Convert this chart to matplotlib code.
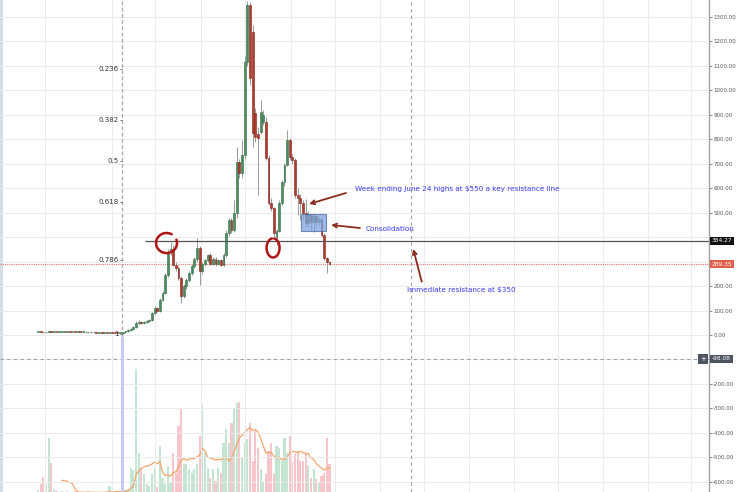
import numpy as np
import pandas as pd
import matplotlib
matplotlib.use("Agg")
import matplotlib.pyplot as plt
import matplotlib.transforms as mtransforms
from matplotlib.patches import Rectangle
from matplotlib.lines import Line2D

# daily candles (price in $)
opens = [12, 13, 12, 11, 13, 15, 13, 14, 13, 14, 14, 13, 14, 13, 13, 12, 13, 12, 12, 11,
         12, 11, 11, 10, 11, 10, 10, 9, 11, 10, 9, 8,
         8, 12, 16, 20, 26, 33, 49, 54, 48, 52,
         57, 61, 88, 110, 98, 143, 172, 245, 340, 352,
         286, 274, 233, 160, 200, 225, 253, 280, 310, 355,
         262, 290, 305, 325, 292, 312, 290, 305, 288, 327,
         417, 470, 430, 499, 707, 662, 736, 1116, 1349, 1240,
         908, 820, 830, 870, 871, 724, 540, 519, 400, 425,
         540, 625, 695, 797, 728, 715, 572, 560, 540, 499,
         458, 490, 462, 488, 462, 475, 409, 315, 298]
closes = [13, 12, 11, 13, 15, 13, 14, 13, 14, 14, 13, 14, 13, 13, 12, 13, 12, 12, 11, 12,
          11, 11, 10, 11, 10, 10, 9, 11, 10, 9, 8, 8,
          12, 16, 20, 26, 33, 49, 54, 48, 52, 57,
          61, 88, 110, 98, 143, 172, 245, 340, 352, 286,
          274, 233, 160, 200, 225, 253, 280, 310, 355, 262,
          290, 305, 325, 292, 312, 290, 305, 288, 327, 417,
          470, 430, 499, 707, 662, 736, 1116, 1349, 1051, 826,
          809, 805, 912, 900, 724, 540, 519, 417, 425, 540,
          625, 695, 797, 728, 715, 572, 560, 540, 499, 458,
          490, 462, 488, 462, 475, 409, 315, 298, 289.35]
highs = [14, 14, 13, 14, 16, 16, 15, 15, 15, 15, 15, 15, 15, 14, 14, 14, 14, 13, 13, 13,
         13, 12, 12, 12, 12, 11, 11, 12, 12, 11, 10, 9,
         14, 18, 23, 30, 38, 56, 60, 58, 56, 60,
         66, 95, 118, 114, 150, 180, 255, 352, 380, 368,
         300, 282, 240, 210, 232, 262, 290, 320, 397, 362,
         298, 312, 332, 335, 318, 320, 312, 312, 335, 428,
         480, 478, 552, 769, 720, 797, 1140, 1365, 1360, 1267,
         930, 850, 960, 920, 890, 735, 560, 525, 435, 550,
         635, 705, 838, 805, 740, 725, 600, 575, 550, 555,
         505, 495, 500, 492, 485, 480, 415, 320, 302]
lows = [11, 11, 10, 10, 12, 12, 12, 12, 12, 13, 12, 12, 12, 12, 11, 11, 11, 11, 10, 10,
        10, 10, 9, 9, 9, 9, 8, 8, 9, 8, 7, 7,
        6, 10, 14, 18, 24, 30, 45, 44, 45, 50,
        55, 58, 84, 92, 95, 138, 168, 238, 325, 280,
        262, 225, 131, 150, 190, 218, 245, 272, 300, 204,
        250, 282, 298, 285, 286, 284, 285, 280, 284, 320,
        405, 418, 420, 480, 640, 640, 720, 1100, 1022, 769,
        790, 572, 820, 860, 715, 530, 505, 400, 368, 420,
        530, 610, 690, 715, 700, 560, 490, 470, 470, 440,
        440, 430, 420, 440, 450, 400, 305, 253, 285]
volumes = [3, 9, 16, 9, 55, 30, 4, 2, 1, 2, 1, 2, 1, 1, 2, 1, 1, 1, 1, 2,
           1, 1, 1, 1, 1, 1, 2, 7, 1, 1, 2, 2,
           3, 3, 4, 25, 23, 124, 40, 24, 19, 9,
           7, 19, 25, 6, 47, 15, 9, 27, 10, 40,
           20, 67, 85, 29, 29, 24, 20, 24, 29, 57,
           88, 40, 25, 15, 24, 12, 25, 20, 50, 64,
           50, 70, 85, 90, 91, 35, 50, 54, 70, 32,
           62, 45, 24, 12, 19, 42, 50, 19, 47, 45,
           32, 55, 40, 57, 32, 39, 42, 32, 32, 40,
           27, 15, 24, 14, 10, 17, 20, 55, 29]

last_price = 289.35
resistance = 384.27
cursor_price = -98.08
fib_high = 1421
fib_low = 4
fib_levels = [0.236, 0.382, 0.5, 0.618, 0.786, 1]
fib_labels = ["0.236", "0.382", "0.5", "0.618", "0.786", "1"]
price_ticks = list(range(-600, 1301, 100))
month_lines = [2.6, 27.9, 44.2, 61.5, 78.1, 95.5, 112.1, 129, 145.7, 162.6,
               179.6, 196.2, 213.2, 230.2, 246.4]

x = np.arange(len(opens))
o = np.array(opens, float)
c = np.array(closes, float)
up = c >= o

fig = plt.figure(figsize=(7.4, 4.92), dpi=100)
rect = [0, 0, 709 / 740, 1]
vax = fig.add_axes(rect)
ax = fig.add_axes(rect)
vax.set_zorder(1)
ax.set_zorder(2)
ax.patch.set_visible(False)

xlim = (-14.34, 253.2)

# volume pane
vax.bar(x, volumes, width=0.8, color=np.where(up, "#c4e5d2", "#f8c6ca"), zorder=2)
ma = pd.Series(volumes).rolling(10).mean()
vax.plot(x, ma, color="#f5a56c", lw=0.9, zorder=3)
vax.set_xlim(*xlim)
vax.set_ylim(1.5, 492)
vax.axis("off")

# candles
ax.vlines(x, lows, highs, color="#9a9a9a", lw=0.7, zorder=3)
ax.bar(x, np.maximum(np.abs(c - o), 2.5), bottom=np.minimum(o, c), width=0.7,
       color=np.where(up, "#4b8d5f", "#b3392b"),
       edgecolor=np.where(up, "#2e6b43", "#7d2419"), linewidth=0.4, zorder=4)

ax.set_xlim(*xlim)
ax.set_ylim(-642, 1369.6)
ax.set_xticks(month_lines)
# labels hidden behind the price boxes are left blank
hidden = {400, 300, -100}
ax.set_yticks(price_ticks)
ax.set_yticklabels(["" if t in hidden else f"{t:.2f}" for t in price_ticks])
ax.yaxis.tick_right()
ax.tick_params(axis="x", length=0, labelbottom=False)
ax.tick_params(axis="y", labelsize=4, colors="#555555", length=2, width=0.5, pad=1)
ax.grid(True, color="#ebebeb", lw=0.7, zorder=0)
for s in ["left", "top", "bottom"]:
    ax.spines[s].set_visible(False)
ax.spines["right"].set_color("#a0a0a0")
ax.spines["right"].set_linewidth(1)

# lines
ax.axhline(last_price, color="#e57373", lw=0.8, ls=(0, (1, 1)), zorder=2)
ax.hlines(resistance, 40.4, xlim[1], color="#555555", lw=0.9, zorder=5)
ax.axhline(cursor_price, color="#a0a0a0", lw=0.8, ls=(0, (3, 3)), zorder=2)
ax.axvline(140.8, color="#a0a0a0", lw=0.8, ls=(0, (3, 3)), zorder=2)
ax.vlines(31.7, -5, 1369.6, color="#a8a8a8", lw=0.9, linestyles=(0, (3, 2)), zorder=2)
ax.vlines(31.7, -642, -5, color="#c8c8f4", lw=2.2, zorder=2)

# fib labels
for lv, lab in zip(fib_levels, fib_labels):
    p = fib_high - lv * (fib_high - fib_low)
    ax.text(30.6, p, lab, ha="right", va="center", fontsize=5, color="#333333", zorder=6)
    ax.hlines(p, 30.9, 31.7, color="#555555", lw=0.6, zorder=6)


def loop(cx, cy, w, h, start, end):
    t = np.radians(np.linspace(start, end, 80))
    ax.plot(cx + w / 2 * np.cos(t), cy + h / 2 * np.sin(t), color="#b01515", lw=1.8,
            solid_capstyle="round", zorder=7)


# hand drawn circles
loop(48.5, 376, 7.9, 82, 60, 380)
loop(88.7, 356, 4.9, 78, 100, 440)

ax.add_patch(Rectangle((99.1, 426.4), 9.6, 68.3, facecolor="#7ea6e0", edgecolor="#4a6a9a",
                       alpha=0.75, lw=0.8, zorder=6))

arrow = dict(arrowstyle="->", color="#8b2b1e", lw=1.3, shrinkA=0, shrinkB=0, mutation_scale=7)
ax.annotate("", xy=(102.3, 535.6), xytext=(116.2, 580.5), arrowprops=arrow, zorder=8)
ax.annotate("", xy=(110.6, 449.7), xytext=(121.5, 437.4), arrowprops=arrow, zorder=8)
ax.annotate("", xy=(141.6, 351.6), xytext=(144.8, 217.9), arrowprops=arrow, zorder=8)

blue = "#3b3bf5"
ax.text(119.6, 597, "Week ending June 24 highs at $550 a key resistance line",
        fontsize=5.2, color=blue, va="center", zorder=8)
ax.text(123.8, 433, "Consolidation", fontsize=5.2, color=blue, va="center", zorder=8)
ax.text(139.1, 184, "Immediate resistance at $350", fontsize=5.2, color=blue, va="center", zorder=8)

# price labels on the scale
tr = mtransforms.blended_transform_factory(ax.transAxes, ax.transData)
box = dict(boxstyle="square,pad=0.3", ec="none")
ax.text(1.004, resistance, f"{resistance:.2f}", transform=tr, ha="left", va="center",
        fontsize=4.2, color="white", bbox=dict(box, fc="#111111"), zorder=10, clip_on=False)
ax.text(1.004, last_price, f"{last_price:.2f}", transform=tr, ha="left", va="center",
        fontsize=4.2, color="white", bbox=dict(box, fc="#e0604c"), zorder=10, clip_on=False)
ax.text(1.004, cursor_price, f"{cursor_price:.2f}", transform=tr, ha="left", va="center",
        fontsize=4.2, color="white", bbox=dict(box, fc="#4d5360"), zorder=10, clip_on=False)
ax.text(0.992, cursor_price, "+", transform=tr, ha="center", va="center",
        fontsize=5, color="white", bbox=dict(box, fc="#4d5360"), zorder=10, clip_on=False)

fig.add_artist(Line2D([0.0015, 0.0015], [0, 1], transform=fig.transFigure, color="#d3dae6", lw=2))

fig.savefig("out.png", dpi=100)
